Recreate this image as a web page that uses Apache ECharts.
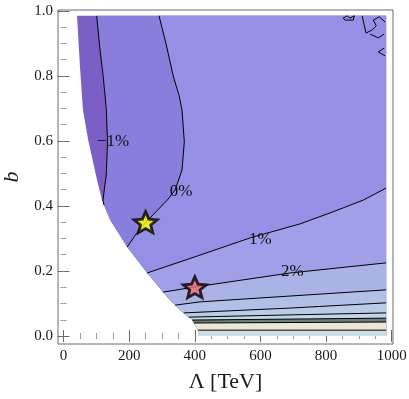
<!DOCTYPE html>
<html>
<head>
<meta charset="utf-8">
<script src="https://cdn.jsdelivr.net/npm/echarts@6/dist/echarts.min.js"></script>
<style>
html, body { margin: 0; padding: 0; background: #fff; }
#chart { width: 409px; height: 399px; }
</style>
</head>
<body>
<div id="chart"></div>
<script>
// points are [Λ in TeV, b]
// left / lower edge of the region where the scan has values
var boundary = [[41, 0.985], [50, 0.828], [59, 0.695], [75, 0.603], [102, 0.48], [117, 0.418],
  [142, 0.357], [194, 0.274], [255, 0.194], [316, 0.12], [355, 0.08], [392, 0.049], [410, 0.018], [410, 0]];
var lamMax = 983;
var bMax = 0.985;

// contour lines, each one ends on the boundary
var contourM1 = [[101, 0.985], [110, 0.89], [121, 0.797], [130, 0.7], [134, 0.597], [130, 0.495], [120, 0.418], [123, 0.403]];
var contour0 = [[291, 0.985], [312, 0.9], [335, 0.797], [352, 0.74], [361, 0.695], [368, 0.597], [361, 0.511],
  [340, 0.449], [316, 0.418], [284, 0.385], [252, 0.351], [222, 0.315], [194, 0.274]];
var contour1 = [[983, 0.455], [913, 0.418], [821, 0.382], [721, 0.345], [569, 0.302], [416, 0.249], [255, 0.194]];
var contour2 = [[983, 0.225], [691, 0.194], [401, 0.151], [303, 0.135]];
var contour3 = [[983, 0.142], [691, 0.123], [416, 0.105], [340, 0.095]];
var contour4 = [[983, 0.102], [691, 0.086], [366, 0.071]];
var contour5 = [[983, 0.071], [691, 0.065], [381, 0.058]];
var contour6 = [[983, 0.055], [392, 0.049]];
var contour7 = [[983, 0.043], [397, 0.04]];
var contour8 = [[983, 0.018], [410, 0.018]];

// small noisy contours in the top right corner
var squiggles = [
  [[852, 0.978], [864, 0.985], [873, 0.978], [886, 0.985], [883, 0.972], [858, 0.972], [852, 0.978]],
  [[910, 0.985], [916, 0.957], [922, 0.932], [941, 0.942], [953, 0.954], [944, 0.972], [962, 0.982], [980, 0.966]],
  [[934, 0.929], [959, 0.917], [977, 0.929]],
  [[980, 0.862], [959, 0.874], [977, 0.886]]
];

var contourLabels = ['\u22121%', '0%', '1%', '2%'];
var labelPoints = [[151, 0.597], [358, 0.443], [600, 0.298], [697, 0.198]];

var starPoints = [[250, 0.35], [400, 0.15]];

var xMajor = [0, 200, 400, 600, 800, 1000];
var xMinor = [50, 100, 150, 250, 300, 350, 450, 500, 550, 650, 700, 750, 850, 900, 950];
var yMajor = [0, 0.2, 0.4, 0.6, 0.8, 1.0];
var yMinor = [0.05, 0.1, 0.15, 0.25, 0.3, 0.35, 0.45, 0.5, 0.55, 0.65, 0.7, 0.75, 0.85, 0.9, 0.95];

var bandColors = ['#7b5fc6', '#8a7edc', '#958fe5', '#a09fe8', '#aab2e6', '#b2c0e8',
  '#b8cce8', '#c2d6e6', '#6e7e7e', '#efe7d6', '#cddbe3'];
var starColors = ['#ffff00', '#f07272'];

var contours = [contourM1, contour0, contour1, contour2, contour3, contour4, contour5, contour6, contour7, contour8];

// region on the right / below a contour, clipped to the scanned region
function regionOf(line) {
  var end = line[line.length - 1];
  var pts = line.slice();
  boundary.forEach(function (p) {
    if (p[1] < end[1]) pts.push(p);
  });
  pts.push([lamMax, 0]);
  pts.push([lamMax, line[0][1]]);
  return pts;
}

var bandPolys = [boundary.concat([[lamMax, 0], [lamMax, bMax]])];
contours.forEach(function (c) { bandPolys.push(regionOf(c)); });

var serif = 'Liberation Serif';
var frameColor = '#6a6a6a';

var starPath = 'path://M0,-10 L2.645,-3.64 L9.51,-3.09 L4.28,1.39 L5.88,8.09 L0,4.5 L-5.88,8.09 L-4.28,1.39 L-9.51,-3.09 L-2.645,-3.64 Z';

function xAxisOf(position, ticks, len, withLabels) {
  var ax = {
    type: 'value', min: -17, max: 1004, position: position, offset: 0,
    axisLine: { show: false },
    splitLine: { show: false },
    axisTick: { show: true, inside: true, length: len, customValues: ticks,
      lineStyle: { color: withLabels !== null && len > 4 ? frameColor : '#9a9a9a', width: 1 } },
    axisLabel: { show: false }
  };
  if (withLabels) {
    ax.axisLabel = {
      show: true, customValues: ticks, fontFamily: serif, fontSize: 15, color: '#1a1a1a', margin: 5,
      formatter: function (v) { return String(v); }
    };
    ax.name = '\u039b [TeV]';
    ax.nameLocation = 'middle';
    ax.nameGap = 27;
    ax.nameTextStyle = { fontFamily: serif, fontSize: 22, color: '#1a1a1a' };
  }
  return ax;
}

function yAxisOf(position, ticks, len, withLabels) {
  var ax = {
    type: 'value', min: -0.0246, max: 1.003, position: position, offset: 0,
    axisLine: { show: false },
    splitLine: { show: false },
    axisTick: { show: true, inside: true, length: len, customValues: ticks,
      lineStyle: { color: len > 4 ? frameColor : '#9a9a9a', width: 1 } },
    axisLabel: { show: false }
  };
  if (withLabels) {
    ax.axisLabel = {
      show: true, customValues: ticks, fontFamily: serif, fontSize: 15, color: '#1a1a1a', margin: 5,
      formatter: function (v) { return v.toFixed(1); }
    };
    ax.name = 'b';
    ax.nameLocation = 'middle';
    ax.nameRotate = 90;
    ax.nameGap = 35;
    ax.nameTextStyle = { fontFamily: serif, fontSize: 22, fontStyle: 'italic', color: '#1a1a1a' };
  }
  return ax;
}

var series = [];

series.push({
  type: 'custom',
  silent: true,
  z: 1,
  data: bandPolys.map(function (p, i) { return [i, 0]; }),
  renderItem: function (params, api) {
    var poly = bandPolys[params.dataIndex];
    return {
      type: 'polygon',
      shape: { points: poly.map(function (p) { return api.coord(p); }) },
      style: { fill: bandColors[params.dataIndex], stroke: null }
    };
  }
});

contours.concat(squiggles).forEach(function (c) {
  series.push({
    type: 'line',
    data: c,
    showSymbol: false,
    silent: true,
    z: 3,
    lineStyle: { color: '#000', width: 1 }
  });
});

series.push({
  type: 'custom',
  silent: true,
  z: 4,
  data: labelPoints,
  renderItem: function (params, api) {
    var pt = api.coord(labelPoints[params.dataIndex]);
    return {
      type: 'text',
      x: pt[0], y: pt[1],
      style: {
        text: contourLabels[params.dataIndex],
        fontFamily: serif,
        fontSize: 17,
        fill: '#111',
        align: 'center',
        verticalAlign: 'middle'
      }
    };
  }
});

series.push({
  type: 'scatter',
  silent: true,
  z: 5,
  symbol: starPath,
  symbolSize: [23, 22],
  symbolKeepAspect: true,
  data: starPoints.map(function (p, i) {
    return { value: p, itemStyle: { color: starColors[i] } };
  }),
  itemStyle: { borderColor: '#000', borderWidth: 2.8 }
});

var myChart = echarts.init(document.getElementById('chart'), null, { renderer: 'canvas' });
myChart.setOption({
  animation: false,
  backgroundColor: '#fff',
  grid: {
    left: 58, top: 10, width: 335, height: 334,
    outerBoundsMode: 'none',
    show: true, borderColor: frameColor, borderWidth: 1, backgroundColor: 'transparent'
  },
  xAxis: [
    xAxisOf('bottom', xMajor, 6, true),
    xAxisOf('bottom', xMinor, 3, false),
    xAxisOf('top', xMajor, 6, false),
    xAxisOf('top', xMinor, 3, false)
  ],
  yAxis: [
    yAxisOf('left', yMajor, 6, true),
    yAxisOf('left', yMinor, 3, false),
    yAxisOf('right', yMajor, 6, false),
    yAxisOf('right', yMinor, 3, false)
  ],
  series: series
});
</script>
</body>
</html>
